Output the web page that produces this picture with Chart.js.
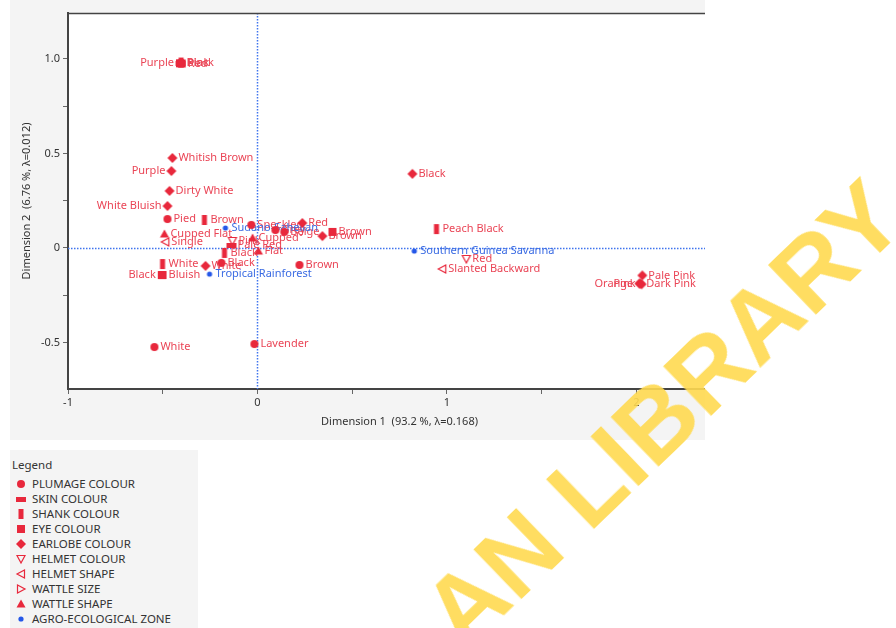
<!DOCTYPE html>
<html>
<head>
<meta charset="utf-8">
<script src="https://cdn.jsdelivr.net/npm/chart.js@4.4.0/dist/chart.umd.min.js"></script>
<style>
  body { margin: 0; width: 896px; height: 628px; background: #fff; position: relative; overflow: hidden; font-family: "Noto Sans", sans-serif; }
  #panel { position: absolute; left: 10px; top: 0; width: 695px; height: 440px; background: #f4f4f4; overflow: hidden; }
  #legend { position: absolute; left: 10px; top: 450px; width: 188px; height: 178px; background: #f4f4f4; color: #333; font-size: 11.5px; }
  #legend .title { position: absolute; left: 2px; top: 7px; }
  #legend .row { position: absolute; left: 5px; height: 15px; line-height: 15px; white-space: nowrap; }
  #legend .row canvas { vertical-align: middle; margin-right: 5px; position: relative; top: -1px; }
  #mark { position: absolute; left: 480px; top: 556px; font: bold 101px "Liberation Sans", Arial, sans-serif; color: #ffda50;
          transform-origin: 0 100%; transform: rotate(-44deg); white-space: nowrap; opacity: 0.9; pointer-events: none; }
</style>
</head>
<body>
<div id="panel"><canvas id="ca" width="727" height="440"></canvas></div>
<div id="legend"><div class="title">Legend</div></div>
<div id="mark">AN LIBRARY</div>
<script>
// points: [label, dimension 1, dimension 2]
const plumage = [
  ['White', -0.544, -0.524],
  ['Lavender', -0.016, -0.508],
  ['Pied', -0.475, 0.153],
  ['Brown', 0.222, -0.090],
  ['Speckled', -0.032, 0.122],
  ['Grey', 0.095, 0.095],
  ['Beige', 0.142, 0.085],
  ['Black', -0.190, -0.079]
];
const skin = [
  ['Black', -0.406, 0.979],
  ['Pale Red', -0.137, 0.016]
];
const shank = [
  ['Pink', -0.403, 0.981],
  ['Brown', -0.280, 0.148],
  ['White', -0.501, -0.085],
  ['Black', -0.174, -0.026],
  ['Peach Black', 0.945, 0.100]
];
const eye = [
  ['Purple', -0.409, 0.977],
  ['Red', -0.400, 0.976],
  ['Bluish', -0.501, -0.143],
  ['Black', -0.505, -0.143],
  ['Brown', 0.396, 0.085]
];
const earlobe = [
  ['Whitish Brown', -0.449, 0.476],
  ['Purple', -0.454, 0.407],
  ['Dirty White', -0.464, 0.302],
  ['White Bluish', -0.475, 0.222],
  ['Black', 0.818, 0.392],
  ['White', -0.274, -0.095],
  ['Red', 0.237, 0.132],
  ['Brown', 0.343, 0.063],
  ['Pale Pink', 2.032, -0.145],
  ['Dark Pink', 2.021, -0.188],
  ['Orange', 2.016, -0.188],
  ['Pink', 2.028, -0.192]
];
const helmetColour = [
  ['Red', 1.103, -0.058],
  ['Pink', -0.132, 0.037]
];
const helmetShape = [
  ['Single', -0.486, 0.032],
  ['Slanted Backward', 0.976, -0.111]
];
const wattleSize = [];
const wattleShape = [
  ['Cupped Flat', -0.491, 0.074],
  ['Cupped', -0.026, 0.053],
  ['Flat', 0.005, -0.016]
];
const zones = [
  ['Sudano-Sahelian', -0.169, 0.106],
  ['Southern Guinea Savanna', 0.828, -0.016],
  ['Tropical Rainforest', -0.253, -0.138]
];

const xTicks = [-1, 0, 1, 2];
const yTicks = [-0.5, 0, 0.5, 1];

// labels drawn to the left of their point
const leftLabels = new Set(['eye:Purple', 'earlobe:Purple', 'earlobe:White Bluish', 'eye:Black', 'earlobe:Orange', 'earlobe:Pink']);

const RED = '#e8283c';
const RED_TEXT = '#ea4556';
const BLUE = '#2457e8';
const BLUE_TEXT = '#3a6be3';

function marker(kind, color) {
  const c = document.createElement('canvas');
  c.width = 12; c.height = 12;
  const g = c.getContext('2d');
  const m = 6;
  g.fillStyle = color; g.strokeStyle = color; g.lineWidth = 1.2;
  g.beginPath();
  if (kind === 'circle') { g.arc(m, m, 4, 0, Math.PI * 2); g.fill(); }
  if (kind === 'dot') { g.arc(m, m, 2.6, 0, Math.PI * 2); g.fill(); }
  if (kind === 'hbar') g.fillRect(m - 5, m - 2, 10, 5);
  if (kind === 'vbar') g.fillRect(m - 2.5, m - 5, 5, 10);
  if (kind === 'square') g.fillRect(m - 4, m - 4, 8, 8);
  if (kind === 'diamond') {
    g.moveTo(m, m - 5); g.lineTo(m + 5, m); g.lineTo(m, m + 5); g.lineTo(m - 5, m); g.closePath(); g.fill();
  }
  if (kind === 'tdown') {
    g.moveTo(m - 4, m - 3.5); g.lineTo(m + 4, m - 3.5); g.lineTo(m, m + 4); g.closePath(); g.stroke();
  }
  if (kind === 'tleft') {
    g.moveTo(m + 3.5, m - 4); g.lineTo(m + 3.5, m + 4); g.lineTo(m - 4, m); g.closePath(); g.stroke();
  }
  if (kind === 'tright') {
    g.moveTo(m - 3.5, m - 4); g.lineTo(m - 3.5, m + 4); g.lineTo(m + 4, m); g.closePath(); g.stroke();
  }
  if (kind === 'tup') {
    g.moveTo(m, m - 4.5); g.lineTo(m + 4.5, m + 3.5); g.lineTo(m - 4.5, m + 3.5); g.closePath(); g.fill();
  }
  return c;
}

const groups = [
  { key: 'plumage', name: 'PLUMAGE COLOUR', pts: plumage, shape: 'circle' },
  { key: 'skin', name: 'SKIN COLOUR', pts: skin, shape: 'hbar' },
  { key: 'shank', name: 'SHANK COLOUR', pts: shank, shape: 'vbar' },
  { key: 'eye', name: 'EYE COLOUR', pts: eye, shape: 'square' },
  { key: 'earlobe', name: 'EARLOBE COLOUR', pts: earlobe, shape: 'diamond' },
  { key: 'helmetColour', name: 'HELMET COLOUR', pts: helmetColour, shape: 'tdown' },
  { key: 'helmetShape', name: 'HELMET SHAPE', pts: helmetShape, shape: 'tleft' },
  { key: 'wattleSize', name: 'WATTLE SIZE', pts: wattleSize, shape: 'tright' },
  { key: 'wattleShape', name: 'WATTLE SHAPE', pts: wattleShape, shape: 'tup' },
  { key: 'zone', name: 'AGRO-ECOLOGICAL ZONE', pts: zones, shape: 'dot', blue: true }
];

const datasets = groups.map(gr => ({
  label: gr.name,
  key: gr.key,
  textColor: gr.blue ? BLUE_TEXT : RED_TEXT,
  data: gr.pts.map(p => ({ x: p[1], y: p[2], name: p[0] })),
  pointStyle: marker(gr.shape, gr.blue ? BLUE : RED),
  pointRadius: 5
}));

// html legend
const LEG = document.getElementById('legend');
groups.forEach((gr, i) => {
  const row = document.createElement('div');
  row.className = 'row';
  row.style.top = (26 + i * 15) + 'px';
  row.appendChild(marker(gr.shape, gr.blue ? BLUE : RED));
  row.appendChild(document.createTextNode(gr.name));
  LEG.appendChild(row);
});

const bgPlugin = {
  id: 'bg',
  beforeDraw(chart) {
    const { ctx, chartArea: a } = chart;
    ctx.save();
    ctx.fillStyle = '#fff';
    ctx.fillRect(a.left, a.top, a.right - a.left, a.bottom - a.top);
    ctx.restore();
  }
};

const zeroLines = {
  id: 'zeroLines',
  beforeDatasetsDraw(chart) {
    const { ctx, chartArea: a, scales } = chart;
    const x0 = Math.round(scales.x.getPixelForValue(0)) + 0.5;
    const y0 = Math.round(scales.y.getPixelForValue(0)) + 0.5;
    ctx.save();
    ctx.strokeStyle = '#3f74ee';
    ctx.lineWidth = 1.5;
    ctx.setLineDash([1.5, 1.5]);
    ctx.beginPath();
    ctx.moveTo(x0, a.top); ctx.lineTo(x0, a.bottom);
    ctx.moveTo(a.left, y0); ctx.lineTo(a.right, y0);
    ctx.stroke();
    ctx.setLineDash([]);
    ctx.strokeStyle = '#444';
    ctx.lineWidth = 1.5;
    ctx.beginPath();
    ctx.moveTo(a.left, a.top + 0.5); ctx.lineTo(a.right, a.top + 0.5);
    ctx.stroke();
    ctx.restore();
  }
};

const pointLabels = {
  id: 'pointLabels',
  beforeDatasetsDraw(chart) {
    const ctx = chart.ctx;
    ctx.save();
    ctx.font = '11px "Noto Sans"';
    ctx.textBaseline = 'middle';
    chart.data.datasets.forEach((ds, i) => {
      const meta = chart.getDatasetMeta(i);
      meta.data.forEach((el, j) => {
        const name = ds.data[j].name;
        const left = leftLabels.has(ds.key + ':' + name);
        ctx.fillStyle = ds.textColor;
        ctx.textAlign = left ? 'right' : 'left';
        ctx.fillText(name, el.x + (left ? -6 : 6), el.y);
      });
    });
    ctx.restore();
  }
};

const near = (v, list) => list.some(t => Math.abs(t - v) < 1e-6);

new Chart(document.getElementById('ca'), {
  type: 'scatter',
  data: { datasets },
  options: {
    responsive: false,
    animation: false,
    events: [],
    layout: { padding: { top: 13, right: 0, left: 0, bottom: 0 } },
    plugins: { legend: { display: false }, tooltip: { enabled: false } },
    scales: {
      x: {
        min: -1, max: 2.5,
        afterFit: s => { s.height = 51; },
        border: { color: '#444', width: 2 },
        grid: { drawOnChartArea: false, tickLength: 5, color: '#666' },
        ticks: {
          stepSize: 0.5, includeBounds: false, padding: 2, maxRotation: 0,
          color: '#333', font: { family: 'Noto Sans', size: 11 },
          callback: v => near(v, xTicks) ? String(v) : ''
        },
        title: { display: true, text: 'Dimension 1  (93.2 %, \u03bb=0.168)', color: '#333',
                 font: { family: 'Noto Sans', size: 11 }, padding: { top: 0, bottom: 12 } }
      },
      y: {
        min: -0.746, max: 1.243,
        afterFit: s => { s.width = 58; },
        border: { color: '#444', width: 2 },
        grid: { drawOnChartArea: false, tickLength: 5, color: '#666' },
        ticks: {
          stepSize: 0.25, includeBounds: false, padding: 3,
          color: '#333', font: { family: 'Noto Sans', size: 11 },
          callback: v => near(v, yTicks) ? (v === 1 ? '1.0' : String(v)) : ''
        },
        title: { display: true, text: 'Dimension 2  (6.76 %, \u03bb=0.012)', color: '#333',
                 font: { family: 'Noto Sans', size: 11 }, padding: { top: 10, bottom: 0 } }
      }
    }
  },
  plugins: [bgPlugin, zeroLines, pointLabels]
});
</script>
</body>
</html>
